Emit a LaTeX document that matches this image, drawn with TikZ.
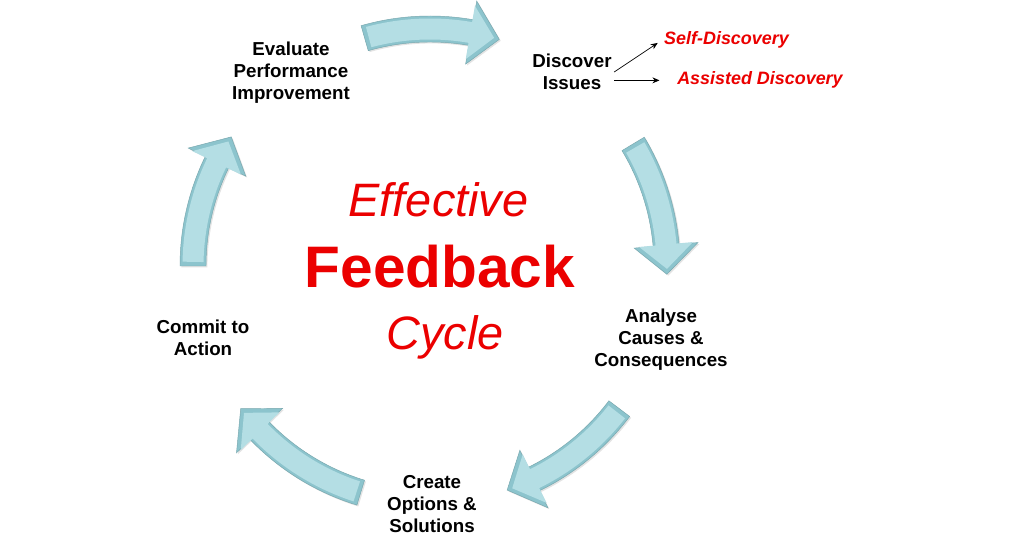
\documentclass[tikz,border=0pt]{standalone}
\usepackage{fontspec}
\setmainfont{Liberation Sans}
\usepackage{tikz}
\usetikzlibrary{arrows.meta}
\usetikzlibrary{shadows}
\definecolor{fbred}{RGB}{235,0,0}
\definecolor{arrowedge}{RGB}{140,196,205}
\definecolor{arrowfill}{RGB}{180,222,228}
\newcommand{\cyclearrow}[6]{%
   \path[#6] plot[domain=#1:#2,samples=30] ({\x}:{237+#4})
      -- ({#2}:{237+#5}) -- ({#3}:237) -- ({#2}:{237-#5})
      -- plot[domain=#2:#1,samples=30] ({\x}:{237-#4}) -- cycle;}
\tikzset{
   cycle label/.style={font=\fontsize{16}{18.7}\selectfont\bfseries, align=center, inner sep=2pt},
   issue label/.style={font=\fontsize{15.3}{18}\selectfont\bfseries\itshape, text=fbred, inner sep=2pt},
   title italic/.style={font=\fontsize{40}{48}\selectfont\itshape, text=fbred, anchor=base},
   title bold/.style={font=\fontsize{50}{60}\selectfont\bfseries, text=fbred, anchor=base},
   pointer/.style={draw=black, line width=0.6pt, -{Stealth[length=6pt,width=5pt]}},
   arrow outer/.style={fill=arrowedge, draw=arrowedge!85!black, line width=0.4pt,
      drop shadow={shadow xshift=1.2pt, shadow yshift=-1.2pt, opacity=0.22}},
   arrow inner/.style={fill=arrowfill},
    }
\begin{document}
\begin{tikzpicture}[x=0.03cm, y=0.03cm]
   \fill[white] (0,0) rectangle (1024,538);
   \begin{scope}[shift={(430,272)}]
      \foreach \ta/\hb/\tp in {106/80/73, 31/5/-2, -37/-64/-71, -107/-136/-143, 180/154/147}{
         \cyclearrow{\ta}{\hb}{\tp}{13}{32}{arrow outer}
         \cyclearrow{\ta-1}{\hb+0.2}{\tp+1.3}{10.5}{27}{arrow inner}
      }
   \end{scope}
   \node[cycle label] (eval) at (291,465) {Evaluate\\Performance\\Improvement};
   \node[cycle label] (disc) at (572,466) {Discover\\Issues};
   \node[cycle label] (anal) at (661,198) {Analyse\\Causes \&\\Consequences};
   \node[cycle label] (crea) at (432,34) {Create\\Options \&\\Solutions};
   \node[cycle label] (comm) at (203,200) {Commit to\\Action};
   \node[issue label, anchor=base] (self) at (726.5,493) {Self-Discovery};
   \node[issue label, anchor=base] (assist) at (760,453) {Assisted Discovery};
   \draw[pointer, shorten >=4pt] (disc.east) -- (self.west);
   \draw[pointer, shorten >=13pt] (disc.east |- assist.west) -- (assist.west);
   \node[title italic] (eff) at (438.5,321) {Effective};
   \node[title bold] (feed) at (440,250) {Feedback};
   \node[title italic] (cyc) at (445,188) {Cycle};
\end{tikzpicture}
\end{document}
